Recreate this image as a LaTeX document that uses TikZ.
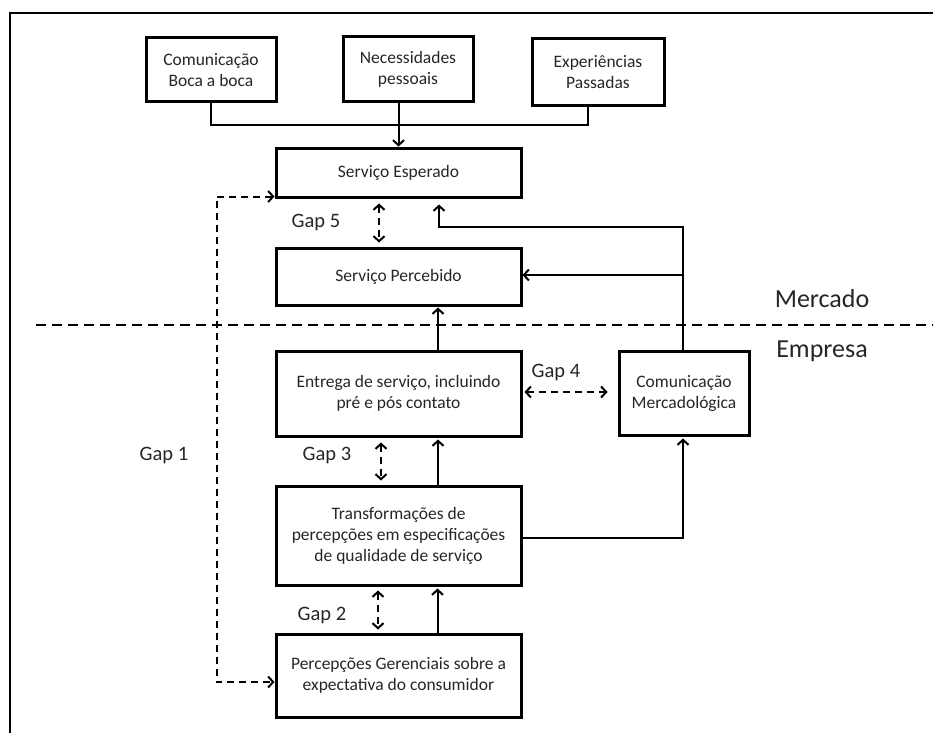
\documentclass[tikz,border=0pt]{standalone}
\usepackage{fontspec}
\setmainfont{Carlito}
\usepackage{tikz}
\usetikzlibrary{positioning, arrows.meta, calc}
\definecolor{textgray}{HTML}{262626}

\begin{document}
\begin{tikzpicture}[x=1pt, y=-1pt,
  box/.style={draw, line width=3pt, align=center, text=textgray, inner sep=0pt,
              font=\fontsize{17.5}{21}\selectfont},
  wire/.style={line width=2pt},
  link/.style={wire, -{Straight Barb[length=5pt, width=11pt]}},
  gaplink/.style={wire, dash pattern=on 7pt off 5pt,
                  {Straight Barb[length=5pt, width=11pt]}-{Straight Barb[length=5pt, width=11pt]}},
  gaplabel/.style={text=textgray, font=\fontsize{20.5}{24}\selectfont},
  zone/.style={text=textgray, font=\fontsize{26}{30}\selectfont}]
  \useasboundingbox (0,0) rectangle (933,733);
  \draw[wire] (10,733) -- (10,13) -- (933,13);

  % top row
  \node[box, minimum width=130pt, minimum height=64pt] (boca) at (211,70) {Comunicação\\Boca a boca};
  \node[box, minimum width=130pt, minimum height=65pt] (necess) at (408,69.5) {Necessidades\\pessoais};
  \node[box, minimum width=132pt, minimum height=67pt] (exper) at (598,72.5) {Experiências\\Passadas};

  % mercado
  \node[box, minimum width=245pt, minimum height=49pt] (esperado) at (398.5,172.5) {Serviço Esperado};
  \node[box, minimum width=245pt, minimum height=57pt] (percebido) at (398.5,276.5) {Serviço Percebido};

  % empresa
  \node[box, minimum width=245pt, minimum height=85pt] (entrega) at (398.5,393.5) {Entrega de serviço, incluindo\\pré e pós contato};
  \node[box, minimum width=130pt, minimum height=84pt] (comunic) at (684,393) {Comunicação\\Mercadológica};
  \node[box, minimum width=245pt, minimum height=99pt] (transf) at (398.5,535.5) {Transformações de\\percepções em especificações\\de qualidade de serviço};
  \node[box, minimum width=245pt, minimum height=83pt] (percep) at (398.5,675.5) {Percepções Gerenciais sobre a\\expectativa do consumidor};

  \draw[wire, dash pattern=on 10pt off 6pt, line width=2.8pt] (36,325) coordinate (divl) -- (933,325) coordinate (divr);
  \node[zone] (mercado) at (822,299) {Mercado};
  \node[zone] (empresa) at (822,351) {Empresa};

  % influencias sobre o servico esperado
  \coordinate (bus) at (398.5,125);
  \draw[wire] (boca.south) |- (bus) -| ($(exper.south)+(-10,0)$);
  \draw[link] (necess.south -| esperado.north) -- (esperado.north);

  % comunicacao
  \coordinate (turn) at (683,227);
  \draw[link, shorten >=6pt] (comunic.north -| turn) -- (turn) -| ($(esperado.south)+(40.5,0)$);
  \draw[link] (comunic.north -| turn) |- ($(percebido.east)+(0,-1.5)$);
  \draw[link, shorten >=2pt] ($(transf.east)+(0,2.5)$) -| (comunic.south -| turn);

  % fluxo interno
  \draw[link, shorten >=1pt] ($(entrega.north)+(39.5,0)$) -- ($(percebido.south)+(39.5,0)$);
  \draw[link, shorten >=2pt] ($(transf.north)+(39.5,0)$) -- ($(entrega.south)+(39.5,0)$);
  \draw[link, shorten >=2pt] ($(percep.north)+(39,0)$) -- ($(transf.south)+(39,0)$);

  % gaps
  \coordinate (gap4l) at ($(entrega.east)+(0,-1.5)$);
  \draw[gaplink, shorten <=5pt, shorten >=4pt] ($(esperado.south)+(-19.5,0)$) -- ($(percebido.north)+(-19.5,0)$);
  \draw[gaplink, shorten <=2pt, shorten >=10pt] (gap4l) -- (gap4l -| comunic.west);
  \draw[gaplink, shorten <=5pt, shorten >=4pt] ($(entrega.south)+(-17.5,0)$) -- ($(transf.north)+(-17.5,0)$);
  \draw[gaplink, shorten <=4pt, shorten >=3pt] ($(transf.south)+(-20.5,0)$) -- ($(percep.north)+(-20.5,0)$);
  \draw[gaplink] ($(esperado.south west)+(0,-2)$) -- ++(-58,0) |- ($(percep.west)+(0,6.5)$);

  \node[gaplabel] (gap5) at (316,222) {Gap 5};
  \node[gaplabel] (gap4) at (556,372) {Gap 4};
  \node[gaplabel] (gap3) at (327,455) {Gap 3};
  \node[gaplabel] (gap2) at (322,615) {Gap 2};
  \node[gaplabel] (gap1) at (164,455) {Gap 1};
\end{tikzpicture}
\end{document}
